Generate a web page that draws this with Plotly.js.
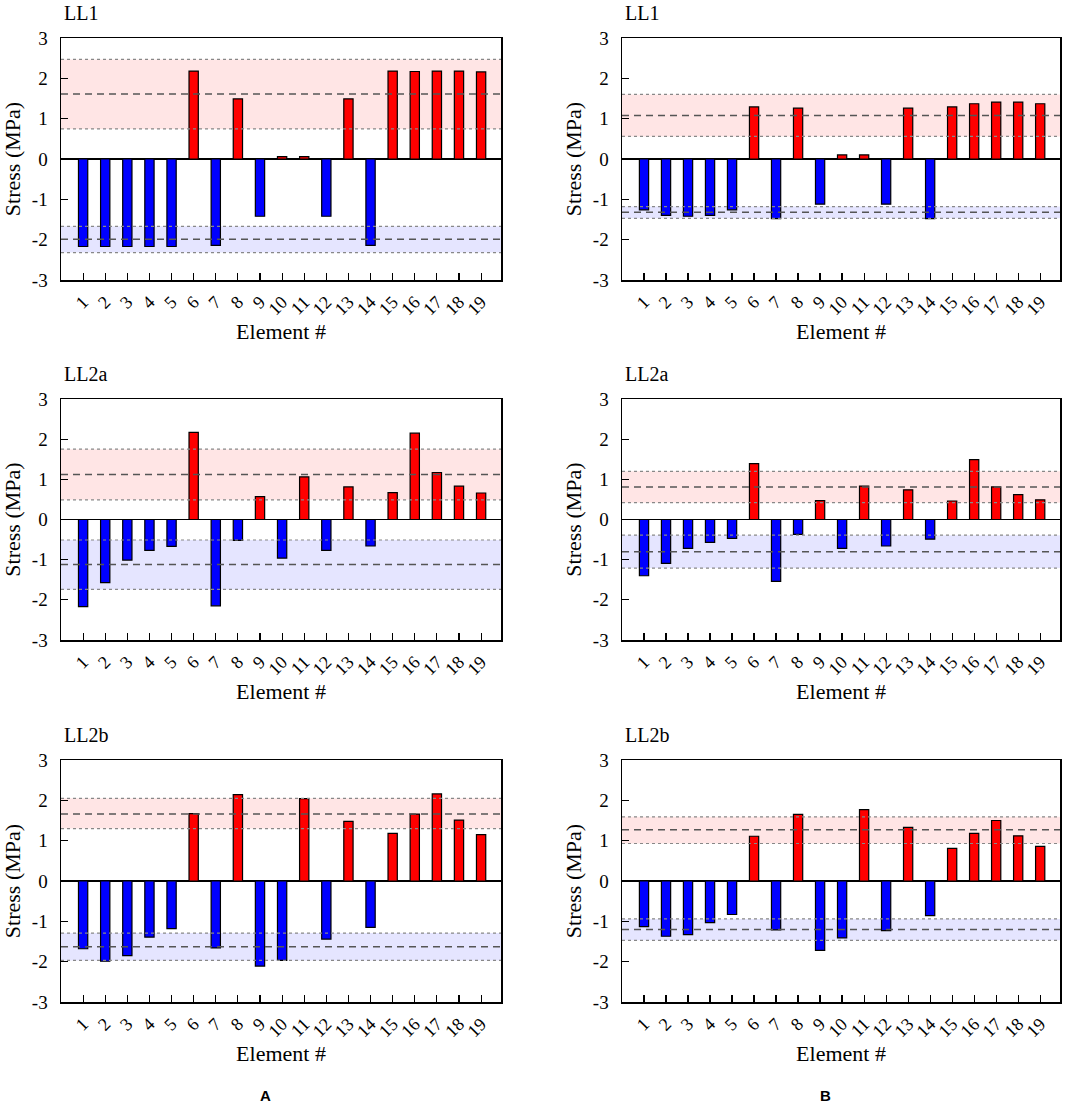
<!DOCTYPE html>
<html>
<head>
<meta charset="utf-8">
<script src="https://cdn.plot.ly/plotly-3.0.1.min.js"></script>
<style>html,body{margin:0;padding:0;background:#fff;}#chart{width:1084px;height:1106px;}</style>
</head>
<body>
<div id="chart"></div>
<script>
// ---- Data ----
const elements = [1,2,3,4,5,6,7,8,9,10,11,12,13,14,15,16,17,18,19];
const panelTitles = ["LL1","LL1","LL2a","LL2a","LL2b","LL2b"];

const stressA_LL1  = [-2.17,-2.17,-2.17,-2.17,-2.17,2.18,-2.14,1.49,-1.42,0.06,0.06,-1.42,1.49,-2.14,2.18,2.17,2.18,2.18,2.16];
const stressB_LL1  = [-1.26,-1.40,-1.42,-1.40,-1.26,1.29,-1.48,1.26,-1.12,0.10,0.10,-1.12,1.26,-1.48,1.29,1.37,1.41,1.41,1.37];
const stressA_LL2a = [-2.17,-1.57,-1.01,-0.77,-0.67,2.17,-2.15,-0.52,0.57,-0.96,1.06,-0.77,0.81,-0.66,0.67,2.15,1.17,0.83,0.66];
const stressB_LL2a = [-1.40,-1.09,-0.72,-0.57,-0.47,1.39,-1.54,-0.37,0.47,-0.72,0.83,-0.66,0.74,-0.49,0.46,1.49,0.81,0.62,0.49];
const stressA_LL2b = [-1.68,-1.99,-1.85,-1.39,-1.18,1.67,-1.66,2.14,-2.11,-1.97,2.04,-1.44,1.48,-1.15,1.18,1.66,2.16,1.51,1.15];
const stressB_LL2b = [-1.13,-1.37,-1.33,-1.03,-0.83,1.11,-1.21,1.65,-1.72,-1.41,1.77,-1.23,1.33,-0.86,0.81,1.18,1.50,1.12,0.86];

// tension band (mean, lower edge, upper edge) and compression band (mean, upper edge, lower edge)
const tensionMean  = [1.61, 1.08, 1.12, 0.81, 1.66, 1.27];
const tensionLow   = [0.745, 0.56, 0.49, 0.42, 1.30, 0.93];
const tensionHigh  = [2.47, 1.60, 1.75, 1.20, 2.05, 1.59];
const compMean     = [-1.99, -1.32, -1.12, -0.80, -1.63, -1.20];
const compHigh     = [-1.67, -1.18, -0.51, -0.39, -1.29, -0.94];
const compLow      = [-2.32, -1.47, -1.74, -1.21, -1.97, -1.47];

const yTicks = [-3,-2,-1,0,1,2,3];
const xTickText = elements.map(String);

const series = [stressA_LL1, stressB_LL1, stressA_LL2a, stressB_LL2a, stressA_LL2b, stressB_LL2b];

// ---- Layout geometry ----
const W = 1084, H = 1106;
const colX = [[61,501],[622,1060]];
const rowY = [[38,280],[399,640],[760,1002]];
const SERIF = "Liberation Serif";

const traces = [];
const layout = {
  width: W, height: H,
  margin: {l:0, r:0, t:0, b:0},
  paper_bgcolor: "#fff", plot_bgcolor: "#fff",
  showlegend: false,
  font: {family: SERIF, color: "#000", size: 19},
  shapes: [], annotations: []
};

for (let i = 0; i < 6; i++) {
  const row = Math.floor(i/2), col = i % 2;
  const n = i + 1;
  const xa = n === 1 ? "x" : "x" + n;
  const ya = n === 1 ? "y" : "y" + n;
  const xk = n === 1 ? "xaxis" : "xaxis" + n;
  const yk = n === 1 ? "yaxis" : "yaxis" + n;
  const vals = series[i];

  traces.push({
    type: "bar", x: elements, y: vals, xaxis: xa, yaxis: ya,
    width: 0.42,
    marker: {color: vals.map(v => v >= 0 ? "#ff0000" : "#0000ff"), line: {color: "#000", width: 1.2}},
    hoverinfo: "x+y"
  });

  const xd = [colX[col][0]/W, colX[col][1]/W];
  const yd = [1 - rowY[row][1]/H, 1 - rowY[row][0]/H];

  layout[xk] = {
    domain: xd, anchor: ya, range: [0, 19.9],
    tickmode: "array", tickvals: elements, ticktext: xTickText,
    tickangle: -45, ticks: "inside", ticklen: 7, tickwidth: 1.2, tickcolor: "#000",
    ticklabelstandoff: 3,
    tickfont: {family: SERIF, size: 18, color: "#000"},
    showline: true, mirror: true, linecolor: "#000", linewidth: 1.5,
    showgrid: false, zeroline: false,
    title: {text: "Element #", font: {family: SERIF, size: 22, color: "#000"}, standoff: 4}
  };
  layout[yk] = {
    domain: yd, anchor: xa, range: [-3, 3],
    tickmode: "array", tickvals: yTicks, ticktext: yTicks.map(String),
    ticks: "inside", ticklen: 7, tickwidth: 1.2, tickcolor: "#000",
    ticklabelstandoff: 8,
    tickfont: {family: SERIF, size: 19, color: "#000"},
    showline: true, mirror: true, linecolor: "#000", linewidth: 1.5,
    showgrid: false, zeroline: true, zerolinecolor: "#000", zerolinewidth: 1.5,
    title: {text: "Stress (MPa)", font: {family: SERIF, size: 22, color: "#000"}, standoff: 5}
  };

  const xdom = xa + " domain";
  // shaded bands
  layout.shapes.push({type:"rect", xref:xdom, yref:ya, x0:0, x1:1, y0:tensionLow[i], y1:tensionHigh[i],
    fillcolor:"rgba(255,0,0,0.1)", line:{width:0}, layer:"below"});
  layout.shapes.push({type:"rect", xref:xdom, yref:ya, x0:0, x1:1, y0:compLow[i], y1:compHigh[i],
    fillcolor:"rgba(0,0,255,0.1)", line:{width:0}, layer:"below"});
  // dotted band edges
  [tensionLow[i], tensionHigh[i], compLow[i], compHigh[i]].forEach(v => {
    layout.shapes.push({type:"line", xref:xdom, yref:ya, x0:0, x1:1, y0:v, y1:v,
      line:{color:"#888", width:1.2, dash:"dot"}, layer:"above"});
  });
  // dashed means
  [tensionMean[i], compMean[i]].forEach(v => {
    layout.shapes.push({type:"line", xref:xdom, yref:ya, x0:0, x1:1, y0:v, y1:v,
      line:{color:"#555", width:1.5, dash:"7px,5px"}, layer:"above"});
  });

  // panel title
  layout.annotations.push({
    text: panelTitles[i], xref: "paper", yref: "paper",
    x: (colX[col][0] + 1)/W, y: 1 - (rowY[row][0] - 25)/H,
    xanchor: "left", yanchor: "middle", showarrow: false,
    font: {family: SERIF, size: 20, color: "#000"}
  });
}

// figure part labels
layout.annotations.push({text:"<b>A</b>", xref:"paper", yref:"paper", x:265/W, y:1-1095/H,
  xanchor:"center", yanchor:"middle", showarrow:false, font:{family:"Liberation Sans", size:15, color:"#000"}});
layout.annotations.push({text:"<b>B</b>", xref:"paper", yref:"paper", x:825/W, y:1-1095/H,
  xanchor:"center", yanchor:"middle", showarrow:false, font:{family:"Liberation Sans", size:15, color:"#000"}});

Plotly.newPlot("chart", traces, layout, {staticPlot: true, displayModeBar: false});
</script>
</body>
</html>
